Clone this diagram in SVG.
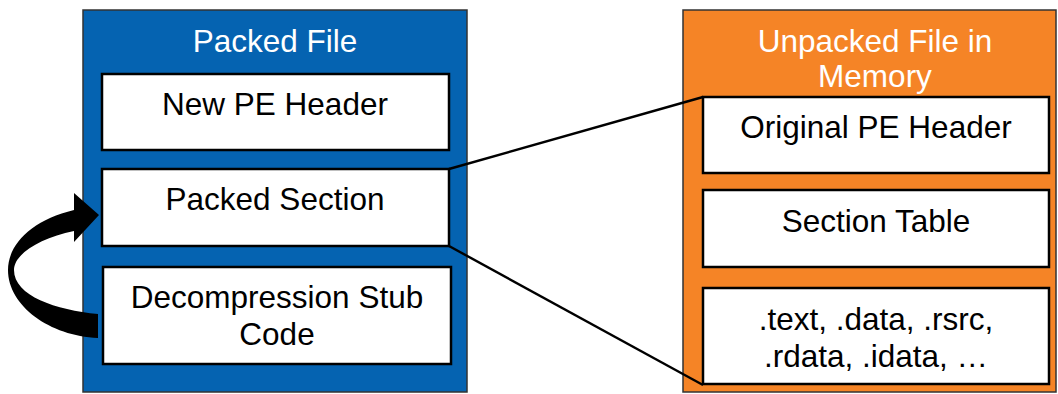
<svg xmlns="http://www.w3.org/2000/svg" width="1058" height="394" viewBox="0 0 1058 394">
  <style>
    .frame { stroke: #333333; stroke-width: 1.5; }
    .blue { fill: #0563b1; }
    .orange { fill: #f58426; }
    .box { fill: #ffffff; stroke: #000000; stroke-width: 2.5; }
    .title { font-family: "Liberation Sans", Arial, sans-serif; font-size: 31.5px; fill: #ffffff; text-anchor: middle; }
    .label { font-family: "Liberation Sans", Arial, sans-serif; font-size: 31.5px; fill: #000000; text-anchor: middle; }
    .link { stroke: #000000; stroke-width: 2.4; fill: none; }
  </style>
  <rect width="1058" height="394" fill="#ffffff"/>

  <!-- packed file container -->
  <g id="packed-file">
    <rect class="frame blue" x="83" y="10" width="384" height="382"/>
    <text class="title" x="275" y="52">Packed File</text>
  </g>
  <g id="new-pe-header">
    <rect class="box" x="102" y="74" width="347" height="76"/>
    <text class="label" x="275" y="115">New PE Header</text>
  </g>
  <g id="packed-section">
    <rect class="box" x="102" y="169" width="347" height="77"/>
    <text class="label" x="275" y="210">Packed Section</text>
  </g>
  <g id="decompression-stub">
    <rect class="box" x="103" y="267" width="348" height="97"/>
    <text class="label" x="277" y="308">Decompression Stub</text>
    <text class="label" x="277" y="345">Code</text>
  </g>

  <!-- unpacked image in memory -->
  <g id="unpacked-file">
    <rect class="frame orange" x="683" y="10" width="373" height="382"/>
    <text class="title" x="875" y="52">Unpacked File in</text>
    <text class="title" x="875" y="87">Memory</text>
  </g>
  <g id="original-pe-header">
    <rect class="box" x="703" y="97" width="346" height="76"/>
    <text class="label" x="876" y="138">Original PE Header</text>
  </g>
  <g id="section-table">
    <rect class="box" x="703" y="190" width="346" height="77"/>
    <text class="label" x="876" y="232">Section Table</text>
  </g>
  <g id="sections">
    <rect class="box" x="703" y="288" width="346" height="96"/>
    <text class="label" x="876" y="330">.text, .data, .rsrc,</text>
    <text class="label" x="876" y="367">.rdata, .idata, …</text>
  </g>

  <!-- connectors -->
  <g id="connectors">
    <line class="link" x1="449" y1="169" x2="703" y2="97"/>
    <line class="link" x1="449" y1="246" x2="703" y2="385"/>
    <!-- curved arrow from the stub back to the packed section -->
    <path fill="#000000" d="M74,210 C32,220 8,244 8,270 C8,306 50,336 98,338 L98,314 C56,310 14,296 14,270 C14,254 40,238 74,231 L74,242 L99,215 L74,193 Z"/>
  </g>
</svg>
